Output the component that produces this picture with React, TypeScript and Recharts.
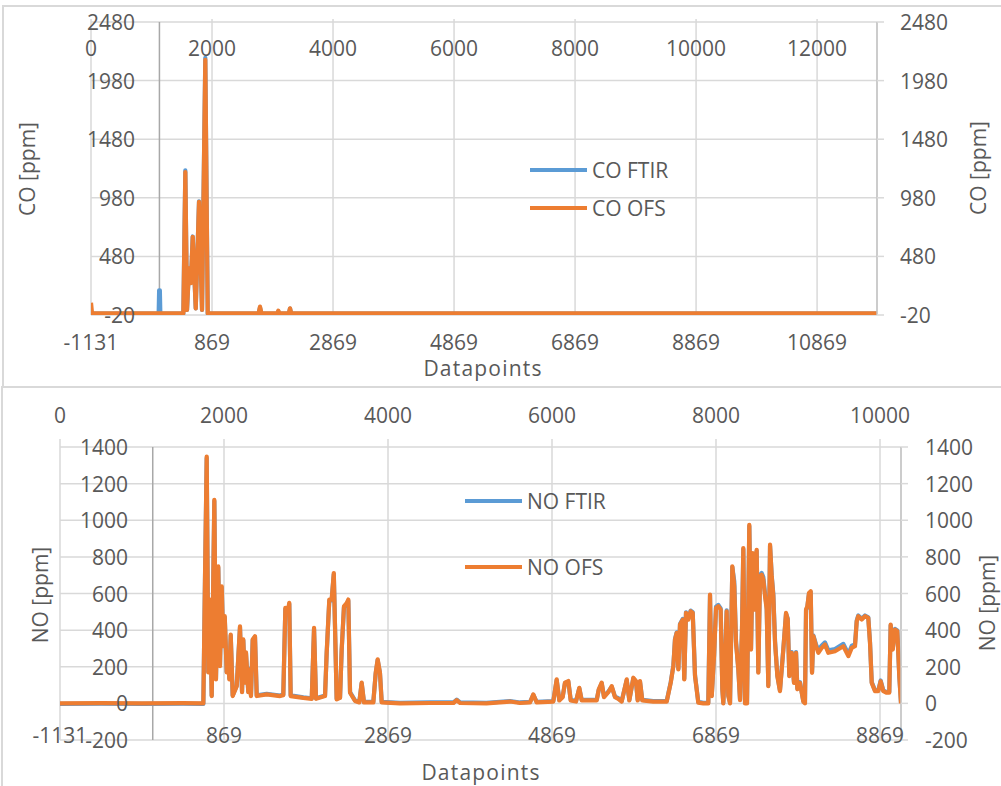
import React from 'react';
import {
  LineChart,
  Line,
  XAxis,
  YAxis,
  CartesianGrid,
  ReferenceLine,
  Legend,
} from 'recharts';

const FONT = '"Open Sans", sans-serif';
const TEXT = '#595959';
const GRID = '#d9d9d9';
const EDGE = '#c4c4c4';
const BLUE = '#5b9bd5';
const ORANGE = '#ed7d31';
const SHIFT = 1131; // bottom axis = top axis - 1131

// ---- CO ----
const coIndex = [
  0, 17, 300, 700, 1118, 1126, 1138, 1146, 1500, 1526,
  1559, 1587, 1620, 1650, 1681, 1731, 1785, 1835, 1889, 1929,
  2400, 2770, 2793, 2816, 3080, 3096, 3112, 3270, 3289, 3308,
  4000, 5000, 6000, 7000, 8000, 9000, 10000, 11000, 12000, 12990,
];
const coFtir = [
  -8, -8, -8, -8, -8, 190, 190, -8, -8, -8,
  1215, 23, 378, 255, 650, 37, 950, 23, 2175, -8,
  -8, -8, 45, -8, -8, 12, -8, -8, 35, -8,
  -8, -8, -8, -8, -8, -8, -8, -8, -8, -8,
];
const coOfs = [
  85, -5, -5, -5, -5, -5, -5, -5, -5, -5,
  1200, 23, 378, 252, 647, 37, 945, 23, 2158, -5,
  -5, -5, 51, -5, -5, 17, -5, -5, 37, -5,
  -5, -5, -5, -5, -5, -5, -5, -5, -5, -5,
];
const coTopTicks = [0, 2000, 4000, 6000, 8000, 10000, 12000];
const coBottomTicks = [-1131, 869, 2869, 4869, 6869, 8869, 10869];
const coYTicks = [-20, 480, 980, 1480, 1980, 2480];

// ---- NO ----
const noIndex = [
  0, 500, 1000, 1500, 1748, 1768, 1789, 1809, 1829, 1850,
  1882, 1902, 1930, 1951, 1972, 1991, 2009, 2033, 2052, 2065,
  2082, 2106, 2155, 2195, 2220, 2235, 2256, 2268, 2296, 2309,
  2329, 2350, 2378, 2399, 2521, 2683, 2723, 2748, 2777, 2796,
  2813, 2967, 3070, 3098, 3122, 3232, 3252, 3284, 3313, 3339,
  3374, 3415, 3435, 3463, 3496, 3516, 3537, 3598, 3650, 3679,
  3707, 3821, 3850, 3874, 3902, 3923, 4146, 4512, 4800, 4838,
  4878, 5200, 5488, 5610, 5732, 5772, 5813, 6016, 6057, 6089,
  6130, 6158, 6199, 6228, 6293, 6333, 6362, 6545, 6570, 6606,
  6634, 6687, 6728, 6768, 6808, 6850, 6911, 6943, 6992, 7024,
  7045, 7073, 7101, 7235, 7399, 7448, 7480, 7500, 7521, 7541,
  7561, 7594, 7613, 7634, 7662, 7691, 7716, 7744, 7784, 7845,
  7906, 7927, 7948, 7976, 8000, 8028, 8057, 8077, 8089, 8110,
  8130, 8150, 8171, 8199, 8223, 8244, 8272, 8293, 8317, 8333,
  8354, 8378, 8406, 8427, 8448, 8467, 8496, 8516, 8537, 8557,
  8577, 8598, 8618, 8638, 8659, 8679, 8699, 8720, 8748, 8780,
  8821, 8854, 8875, 8894, 8923, 8951, 8976, 8992, 9024, 9065,
  9085, 9098, 9114, 9134, 9155, 9171, 9187, 9220, 9248, 9289,
  9329, 9370, 9451, 9553, 9614, 9655, 9695, 9716, 9735, 9777,
  9817, 9857, 9878, 9899, 9939, 9979, 10008, 10040, 10082, 10113,
  10130, 10155, 10183, 10211, 10235, 10256,
];
const noOfs = [
  0, 1, 0, 1, 0, 676, 1348, 169, 567, 40,
  1112, 131, 748, 203, 639, 312, 476, 169, 278, 131,
  376, 40, 94, 421, 61, 349, 113, 278, 61, 185,
  40, 349, 367, 40, 49, 40, 45, 521, 500, 549,
  40, 30, 25, 412, 25, 40, 276, 567, 567, 712,
  22, 30, 294, 530, 548, 567, 58, 13, 5, 113,
  5, 5, 167, 240, 167, 5, 0, 2, 3, 18,
  2, 0, 10, 2, 5, 49, 5, 10, 131, 16,
  34, 113, 122, 16, 10, 85, 16, 16, 76, 113,
  34, 61, 94, 34, 25, 10, 131, 16, 140, 122,
  16, 122, 16, 10, 10, 113, 203, 349, 385, 185,
  430, 457, 131, 494, 457, 503, 494, 149, 4, 0,
  0, 594, 40, 258, 521, 530, 512, 77, 0, 222,
  503, 40, 0, 748, 639, 331, 185, 18, 403, 848,
  0, 0, 975, 294, 821, 512, 839, 168, 694, 703,
  676, 585, 512, 94, 867, 694, 585, 331, 149, 67,
  294, 494, 458, 149, 276, 112, 276, 77, 112, 9,
  0, 512, 530, 603, 612, 167, 367, 312, 276, 303,
  321, 276, 285, 312, 258, 303, 312, 448, 476, 458,
  476, 467, 331, 112, 67, 67, 121, 67, 58, 58,
  430, 294, 403, 394, 149, 0,
];
const noFtir = [
  -3, -2, -3, -2, -3, 670, 1340, 172, 560, 42,
  1105, 135, 742, 208, 632, 318, 470, 172, 280, 136,
  370, 44, 96, 415, 64, 345, 116, 275, 64, 188,
  44, 345, 362, 44, 52, 43, 48, 515, 497, 543,
  44, 33, 28, 406, 28, 43, 272, 560, 562, 705,
  25, 33, 290, 524, 543, 560, 61, 16, 8, 110,
  8, 8, 163, 236, 165, 8, 3, 5, 6, 20,
  5, 3, 13, 5, 8, 46, 8, 13, 127, 19,
  37, 110, 118, 19, 13, 82, 19, 19, 73, 110,
  37, 64, 91, 37, 28, 13, 127, 19, 136, 118,
  19, 118, 19, 13, 13, 116, 207, 352, 388, 189,
  434, 461, 135, 497, 462, 507, 498, 153, 8, 3,
  3, 590, 44, 262, 528, 538, 518, 82, 3, 226,
  508, 44, 3, 744, 665, 338, 190, 22, 408, 842,
  3, 3, 968, 298, 815, 518, 833, 172, 702, 712,
  690, 600, 525, 98, 860, 700, 598, 340, 153, 71,
  298, 490, 462, 153, 280, 116, 280, 81, 116, 12,
  3, 508, 527, 600, 608, 171, 372, 322, 290, 316,
  333, 290, 297, 325, 270, 315, 322, 452, 480, 462,
  480, 470, 335, 116, 71, 71, 125, 71, 62, 62,
  426, 298, 407, 398, 153, 3,
];
const noTopTicks = [0, 2000, 4000, 6000, 8000, 10000];
const noBottomTicks = [-1131, 869, 2869, 4869, 6869, 8869];
const noYTicks = [-200, 0, 200, 400, 600, 800, 1000, 1200, 1400];

function buildRows(index: number[], ftir: number[], ofs: number[]) {
  return index.map((t, i) => ({ t, d: t - SHIFT, ftir: ftir[i], ofs: ofs[i] }));
}

const coRows = buildRows(coIndex, coFtir, coOfs);
const noRows = buildRows(noIndex, noFtir, noOfs);

const textStyle = { fill: TEXT, fontSize: 21, fontFamily: FONT };

// tick labels sit at a fixed row / column, following the tick position on the other axis
const xTick = (y: number) => (props: any) => (
  <text x={props.x} y={y} textAnchor="middle" dominantBaseline="central" {...textStyle}>
    {props.payload.value}
  </text>
);
const yTick = (x: number, anchor: 'start' | 'end') => (props: any) => (
  <text x={x} y={props.y} textAnchor={anchor} dominantBaseline="central" {...textStyle}>
    {props.payload.value}
  </text>
);

function AxisTitle({ cx, cy, text, vertical, spacing = 0 }: any) {
  return (
    <text
      x={cx}
      y={cy}
      transform={vertical ? `rotate(-90 ${cx} ${cy})` : undefined}
      textAnchor="middle"
      dominantBaseline="central"
      letterSpacing={spacing}
      {...textStyle}
    >
      {text}
    </text>
  );
}

function SeriesKey({ payload, gap }: any) {
  return (
    <div style={{ fontFamily: FONT, fontSize: 21, color: TEXT }}>
      {(payload || []).map((p: any, i: number) => (
        <div
          key={p.value}
          style={{ display: 'flex', alignItems: 'center', height: 30, marginTop: i === 0 ? 0 : gap }}
        >
          <span style={{ display: 'inline-block', width: 57, height: 4, background: p.color, marginRight: 5 }} />
          <span>{p.value}</span>
        </div>
      ))}
    </div>
  );
}

type PanelProps = {
  rows: any[];
  width: number;
  height: number;
  topH: number;
  bottomH: number;
  leftW: number;
  rightW: number;
  topDomain: [number, number];
  topTicks: number[];
  bottomTicks: number[];
  yDomain: [number, number];
  yTicks: number[];
  topTickY: number;
  topTickSize: number;
  bottomTickY: number;
  leftTickX: number;
  rightTickX: number;
  leftTitle: [number, number];
  rightTitle: [number, number];
  xTitle: [number, number];
  yLabel: string;
  names: [string, string];
  legendPos: { left: number; top: number };
  legendGap: number;
};

function Panel(p: PanelProps) {
  return (
    <LineChart width={p.width} height={p.height} data={p.rows} margin={{ top: 0, right: 0, bottom: 0, left: 0 }}>
      <CartesianGrid xAxisId="top" yAxisId="left" stroke={GRID} strokeWidth={1.5} />
      <XAxis
        xAxisId="top"
        orientation="top"
        dataKey="t"
        type="number"
        domain={p.topDomain}
        allowDataOverflow
        ticks={p.topTicks}
        interval={0}
        height={p.topH}
        axisLine={false}
        tickLine={{ stroke: GRID, strokeWidth: 1.5 }}
        tickSize={p.topTickSize}
        tick={xTick(p.topTickY)}
      />
      <XAxis
        xAxisId="bottom"
        dataKey="d"
        type="number"
        domain={[p.topDomain[0] - SHIFT, p.topDomain[1] - SHIFT]}
        allowDataOverflow
        ticks={p.bottomTicks}
        interval={0}
        height={p.bottomH}
        axisLine={false}
        tickLine={false}
        tick={xTick(p.bottomTickY)}
        label={<AxisTitle cx={p.xTitle[0]} cy={p.xTitle[1]} text="Datapoints" spacing={1.2} />}
      />
      <YAxis
        yAxisId="left"
        type="number"
        domain={p.yDomain}
        allowDataOverflow
        ticks={p.yTicks}
        interval={0}
        width={p.leftW}
        axisLine={false}
        tickLine={false}
        tick={yTick(p.leftTickX, 'end')}
        label={<AxisTitle cx={p.leftTitle[0]} cy={p.leftTitle[1]} text={p.yLabel} vertical />}
      />
      <YAxis
        yAxisId="right"
        orientation="right"
        type="number"
        domain={p.yDomain}
        allowDataOverflow
        ticks={p.yTicks}
        interval={0}
        width={p.rightW}
        axisLine={{ stroke: EDGE, strokeWidth: 1.5 }}
        tickLine={{ stroke: GRID, strokeWidth: 1.5 }}
        tickSize={7}
        tick={yTick(p.rightTickX, 'start')}
        label={<AxisTitle cx={p.rightTitle[0]} cy={p.rightTitle[1]} text={p.yLabel} vertical />}
      />
      <ReferenceLine xAxisId="bottom" yAxisId="right" x={0} stroke="#a8a8a8" strokeWidth={1.5} />
      <Legend
        layout="vertical"
        align="center"
        verticalAlign="middle"
        wrapperStyle={{ left: p.legendPos.left, top: p.legendPos.top, width: 'auto' }}
        content={(props: any) => <SeriesKey payload={props.payload} gap={p.legendGap} />}
      />
      <Line
        xAxisId="top"
        yAxisId="left"
        dataKey="ftir"
        name={p.names[0]}
        type="linear"
        stroke={BLUE}
        strokeWidth={4.2}
        strokeLinejoin="round"
        dot={false}
        isAnimationActive={false}
      />
      <Line
        xAxisId="bottom"
        yAxisId="right"
        dataKey="ofs"
        name={p.names[1]}
        type="linear"
        stroke={ORANGE}
        strokeWidth={4.2}
        strokeLinejoin="round"
        dot={false}
        isAnimationActive={false}
      />
    </LineChart>
  );
}

export default function App() {
  return (
    <div
      style={{
        position: 'absolute',
        left: 0,
        top: 0,
        width: 1001,
        height: 786,
        overflow: 'hidden',
        background: '#fff',
      }}
    >
      <div style={{ position: 'absolute', left: 2, top: 5, width: 1010, height: 379, border: `2px solid ${GRID}` }} />
      <div style={{ position: 'absolute', left: 1, top: 386, width: 1010, height: 420, border: `2px solid ${GRID}` }} />

      <div style={{ position: 'absolute', left: 0, top: 0 }}>
        <Panel
          rows={coRows}
          width={1001}
          height={387}
          topH={22}
          bottomH={72}
          leftW={91}
          rightW={124}
          topDomain={[0, 12990]}
          topTicks={coTopTicks}
          bottomTicks={coBottomTicks}
          yDomain={[-20, 2480]}
          yTicks={coYTicks}
          topTickY={48}
          topTickSize={3}
          bottomTickY={342}
          leftTickX={135}
          rightTickX={900}
          leftTitle={[27, 169]}
          rightTitle={[978, 168]}
          xTitle={[483, 368]}
          yLabel="CO [ppm]"
          names={['CO FTIR', 'CO OFS']}
          legendPos={{ left: 530, top: 155 }}
          legendGap={8}
        />
      </div>

      <div style={{ position: 'absolute', left: 0, top: 388 }}>
        <Panel
          rows={noRows}
          width={1001}
          height={398}
          topH={59}
          bottomH={46}
          leftW={60}
          rightW={100}
          topDomain={[0, 10256]}
          topTicks={noTopTicks}
          bottomTicks={noBottomTicks}
          yDomain={[-200, 1400]}
          yTicks={noYTicks}
          topTickY={27}
          topTickSize={8}
          bottomTickY={347}
          leftTickX={128}
          rightTickX={925}
          leftTitle={[40, 207]}
          rightTitle={[987, 215]}
          xTitle={[481, 384]}
          yLabel="NO [ppm]"
          names={['NO FTIR', 'NO OFS']}
          legendPos={{ left: 465, top: 98 }}
          legendGap={36}
        />
      </div>
    </div>
  );
}
